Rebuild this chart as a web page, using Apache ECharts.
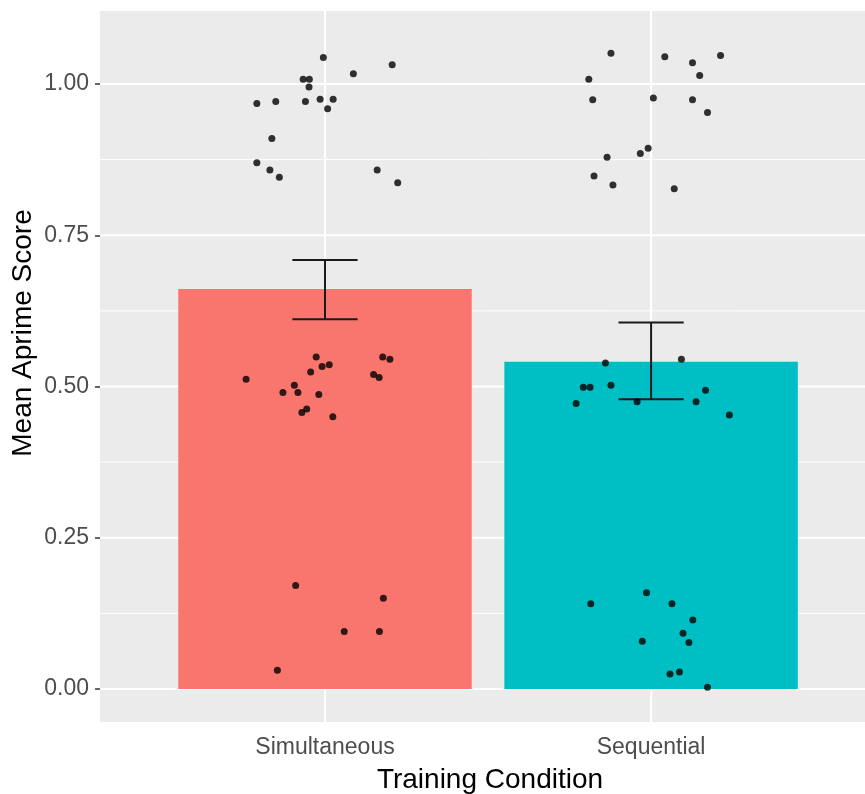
<!DOCTYPE html>
<html><head><meta charset="utf-8">
<script src="https://cdn.jsdelivr.net/npm/echarts@6/dist/echarts.min.js"></script>
<style>html,body{margin:0;padding:0;background:#fff}#c{width:865px;height:794px}</style>
</head><body><div id="c"></div>
<script>
// ---- data ----
const categories = ['Simultaneous', 'Sequential'];
const categoryPositions = [1, 2];
const barMeans = [0.661, 0.541];
const errLower = [0.611, 0.479];
const errUpper = [0.709, 0.606];
const barColors = ['#F8766D', '#00BFC4'];
const yTicks = [0, 0.25, 0.5, 0.75, 1];
const yMinorTicks = [0.125, 0.375, 0.625, 0.875];

const simJitterX = [0.995, 1.206, 1.087, 0.933, 0.952, 0.951, 0.791, 0.849, 0.940, 0.985, 1.025, 1.008, 0.837, 0.791, 0.831, 0.860, 1.160, 1.223,
  0.758, 0.871, 0.906, 0.917, 0.956, 0.973, 0.991, 1.013, 0.981, 0.929, 0.944, 1.024, 1.177, 1.199, 1.149, 1.166,
  0.910, 1.179, 1.059, 1.167, 0.854];
const simScores = [1.044, 1.032, 1.017, 1.008, 1.008, 0.995, 0.968, 0.971, 0.971, 0.975, 0.975, 0.959, 0.910, 0.870, 0.858, 0.846, 0.858, 0.837,
  0.512, 0.490, 0.502, 0.490, 0.524, 0.549, 0.533, 0.536, 0.487, 0.457, 0.463, 0.450, 0.549, 0.545, 0.520, 0.515,
  0.171, 0.150, 0.095, 0.095, 0.031];
const seqJitterX = [1.877, 2.042, 2.127, 2.213, 2.149, 1.809, 1.821, 2.007, 2.127, 2.173, 1.991, 1.967, 1.865, 1.825, 1.883, 2.071,
  1.860, 2.093, 1.792, 1.813, 1.877, 1.770, 1.957, 2.167, 2.138, 2.240,
  1.815, 1.986, 2.064, 2.128, 2.098, 2.116, 1.973, 2.058, 2.087, 2.173];
const seqScores = [1.051, 1.045, 1.035, 1.047, 1.014, 1.008, 0.974, 0.977, 0.974, 0.953, 0.894, 0.885, 0.879, 0.848, 0.833, 0.827,
  0.539, 0.545, 0.499, 0.499, 0.502, 0.472, 0.475, 0.494, 0.475, 0.453,
  0.141, 0.159, 0.141, 0.114, 0.092, 0.077, 0.079, 0.025, 0.028, 0.003];

// ---- build ----
const FONT = "'Liberation Sans', Arial, sans-serif";
const barData = categoryPositions.map((p, i) => [p, barMeans[i]]);
const errData = categoryPositions.map((p, i) => [p, errLower[i], errUpper[i]]);
const pointData = simJitterX.map((x, i) => [x, simScores[i]])
  .concat(seqJitterX.map((x, i) => [x, seqScores[i]]));

function hLines(values, width) {
  return {
    type: 'custom', z: 1, silent: true, clip: true,
    data: values.map(v => [categoryPositions[0], v]),
    renderItem: (params, api) => {
      const cs = params.coordSys;
      const y = api.coord([api.value(0), api.value(1)])[1];
      return { type: 'line', shape: { x1: cs.x, y1: y, x2: cs.x + cs.width, y2: y },
        style: { stroke: '#FFFFFF', lineWidth: width } };
    }
  };
}
function vLines(values, width) {
  return {
    type: 'custom', z: 1, silent: true, clip: true,
    data: values.map(v => [v, 0]),
    renderItem: (params, api) => {
      const cs = params.coordSys;
      const x = api.coord([api.value(0), api.value(1)])[0];
      return { type: 'line', shape: { x1: x, y1: cs.y, x2: x, y2: cs.y + cs.height },
        style: { stroke: '#FFFFFF', lineWidth: width } };
    }
  };
}

const chart = echarts.init(document.getElementById('c'), null, { renderer: 'canvas' });
chart.setOption({
  animation: false,
  backgroundColor: '#ffffff',
  grid: { left: 100, right: 0, top: 11, bottom: 72, show: true, backgroundColor: '#EBEBEB', borderWidth: 0 },
  xAxis: {
    type: 'value', min: 0.31, max: 2.656,
    axisLine: { show: false },
    axisTick: { show: true, length: 5, customValues: categoryPositions, lineStyle: { color: '#333', width: 1.5 } },
    axisLabel: { customValues: categoryPositions, margin: 14, fontFamily: FONT, fontSize: 23, color: '#4D4D4D',
      formatter: v => categories[categoryPositions.indexOf(Math.round(v))] || '' },
    splitLine: { show: false }
  },
  yAxis: {
    type: 'value', min: -0.0545, max: 1.1207,
    axisLine: { show: false },
    axisTick: { show: true, length: 5, customValues: yTicks, lineStyle: { color: '#333', width: 1.5 } },
    axisLabel: { customValues: yTicks, margin: 11, fontFamily: FONT, fontSize: 23, color: '#4D4D4D',
      formatter: v => v.toFixed(2) },
    splitLine: { show: false }
  },
  graphic: [{
    type: 'text', x: 23, y: 333, rotation: Math.PI / 2,
    style: { text: 'Mean Aprime Score', font: '28px ' + FONT, fill: '#000', align: 'center', verticalAlign: 'middle' }
  }, {
    type: 'text', x: 490, y: 780,
    style: { text: 'Training Condition', font: '28px ' + FONT, fill: '#000', align: 'center', verticalAlign: 'middle' }
  }],
  series: [
    hLines(yMinorTicks, 1),
    hLines(yTicks, 2),
    vLines(categoryPositions, 2),
    {
      type: 'custom', z: 2, data: barData, silent: true,
      renderItem: (params, api) => {
        const x = api.value(0), m = api.value(1);
        const p1 = api.coord([x - 0.45, m]);
        const p2 = api.coord([x + 0.45, 0]);
        return { type: 'rect', shape: { x: p1[0], y: p1[1], width: p2[0] - p1[0], height: p2[1] - p1[1] },
          style: { fill: barColors[params.dataIndex] } };
      }
    },
    {
      type: 'custom', z: 3, data: errData, silent: true,
      renderItem: (params, api) => {
        const x = api.value(0), lo = api.value(1), hi = api.value(2);
        const a = api.coord([x, lo]), b = api.coord([x, hi]);
        const l = api.coord([x - 0.1, hi])[0], r = api.coord([x + 0.1, hi])[0];
        const st = { stroke: '#1A1A1A', lineWidth: 2 };
        return { type: 'group', children: [
          { type: 'line', shape: { x1: a[0], y1: a[1], x2: b[0], y2: b[1] }, style: st },
          { type: 'line', shape: { x1: l, y1: a[1], x2: r, y2: a[1] }, style: st },
          { type: 'line', shape: { x1: l, y1: b[1], x2: r, y2: b[1] }, style: st }
        ] };
      }
    },
    {
      type: 'scatter', z: 4, data: pointData, symbol: 'circle', symbolSize: 7, silent: true,
      itemStyle: { color: '#000000' }
    }
  ]
});
</script>
</body></html>
